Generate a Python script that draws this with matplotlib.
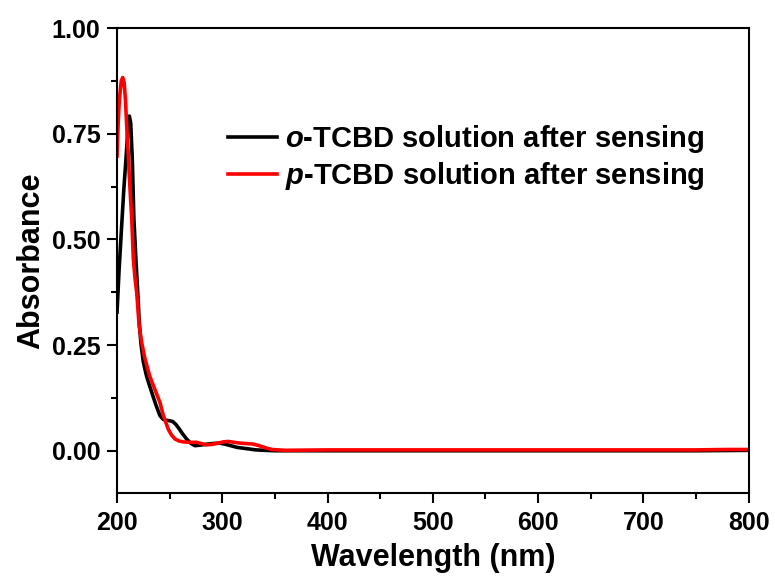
import numpy as np
import matplotlib
matplotlib.use('Agg')
import matplotlib.pyplot as plt
from matplotlib.ticker import MultipleLocator, FormatStrFormatter

plt.rcParams['font.family'] = ['Liberation Sans', 'DejaVu Sans']
plt.rcParams['font.weight'] = 'bold'
plt.rcParams['mathtext.fontset'] = 'custom'
plt.rcParams['mathtext.it'] = 'Liberation Sans:italic:bold'
plt.rcParams['mathtext.rm'] = 'Liberation Sans:bold'

# UV-vis spectra (wavelength in nm, absorbance)
wl_o = [200, 202, 204.4, 206.5, 208.5, 210.3, 211.7, 213, 214.5, 216, 218, 220, 221,
        222.6, 225, 228, 230.5, 233, 237, 240.8, 244, 247, 250, 253, 256, 259,
        262, 266, 270, 274, 278, 284, 290, 297, 302, 308, 314, 320, 326, 332,
        340, 350, 400, 450, 500, 550, 600, 650, 700, 750, 800]
abs_o = [0.328, 0.43, 0.532, 0.62, 0.69, 0.76, 0.792, 0.775, 0.69, 0.55, 0.45, 0.36, 0.31,
         0.256, 0.21, 0.177, 0.157, 0.138, 0.108, 0.083, 0.074, 0.072, 0.071, 0.069, 0.062, 0.052,
         0.041, 0.028, 0.018, 0.012, 0.013, 0.015, 0.017, 0.018, 0.016, 0.012, 0.008, 0.006, 0.004, 0.002,
         0.001, 0.0, 0.0, 0.0, 0.0, 0.0, 0.0, 0.0, 0.0, 0.0, 0.001]

wl_p = [200, 201, 202.2, 204, 205.4, 206.8, 208, 209.2, 210.5, 211.7, 213, 214, 215.5,
        217, 218.7, 221, 223.4, 226.6, 231, 235.8, 240.8, 244, 246.5, 248.7, 251.5,
        255, 259, 263, 268, 275.6, 280, 285, 290, 296, 301, 305.7, 311, 317, 323, 329,
        335, 341, 347, 360, 400, 450, 500, 550, 600, 650, 700, 750, 780, 800]
abs_p = [0.697, 0.77, 0.83, 0.875, 0.883, 0.87, 0.83, 0.768, 0.71, 0.65, 0.59, 0.548, 0.453,
         0.41, 0.374, 0.296, 0.256, 0.217, 0.177, 0.146, 0.114, 0.083, 0.066, 0.051, 0.038,
         0.028, 0.023, 0.021, 0.02, 0.02, 0.017, 0.014, 0.015, 0.018, 0.021, 0.022, 0.02, 0.018, 0.017, 0.016,
         0.012, 0.007, 0.003, 0.001, 0.002, 0.002, 0.002, 0.002, 0.002, 0.002, 0.002, 0.002, 0.003, 0.003]

labels = [r'$o$-TCBD solution after sensing', r'$p$-TCBD solution after sensing']
colors = ['black', 'red']

fig = plt.figure(figsize=(7.75, 5.79), dpi=100)
ax = fig.add_axes([0.151, 0.1485, 0.815, 0.803])

ax.plot(wl_o, abs_o, color=colors[0], lw=2.6, label=labels[0])
ax.plot(wl_p, abs_p, color=colors[1], lw=2.6, label=labels[1])

ax.set_xlim(200, 800)
ax.set_ylim(-0.1, 1.0)
ax.xaxis.set_major_locator(MultipleLocator(100))
ax.xaxis.set_minor_locator(MultipleLocator(50))
ax.yaxis.set_major_locator(MultipleLocator(0.25))
ax.yaxis.set_minor_locator(MultipleLocator(0.125))
ax.yaxis.set_major_formatter(FormatStrFormatter('%.2f'))

ax.tick_params(which='major', direction='out', length=7, width=1.5, labelsize=18)
ax.tick_params(axis='x', which='major', pad=6)
ax.tick_params(axis='y', which='major', pad=5)
ax.tick_params(which='minor', direction='out', length=4, width=1.5)
for s in ax.spines.values():
    s.set_linewidth(1.5)

ax.set_xlabel('Wavelength (nm)', fontsize=22, fontweight='bold', labelpad=6)
ax.set_ylabel('Absorbance', fontsize=22, fontweight='bold', labelpad=4)

ax.legend(loc='upper left', bbox_to_anchor=(0.157, 0.82), frameon=False, fontsize=21,
          handlelength=1.7, handletextpad=0.25, labelspacing=0.15, borderaxespad=0)

fig.savefig('out.png', dpi=100)
